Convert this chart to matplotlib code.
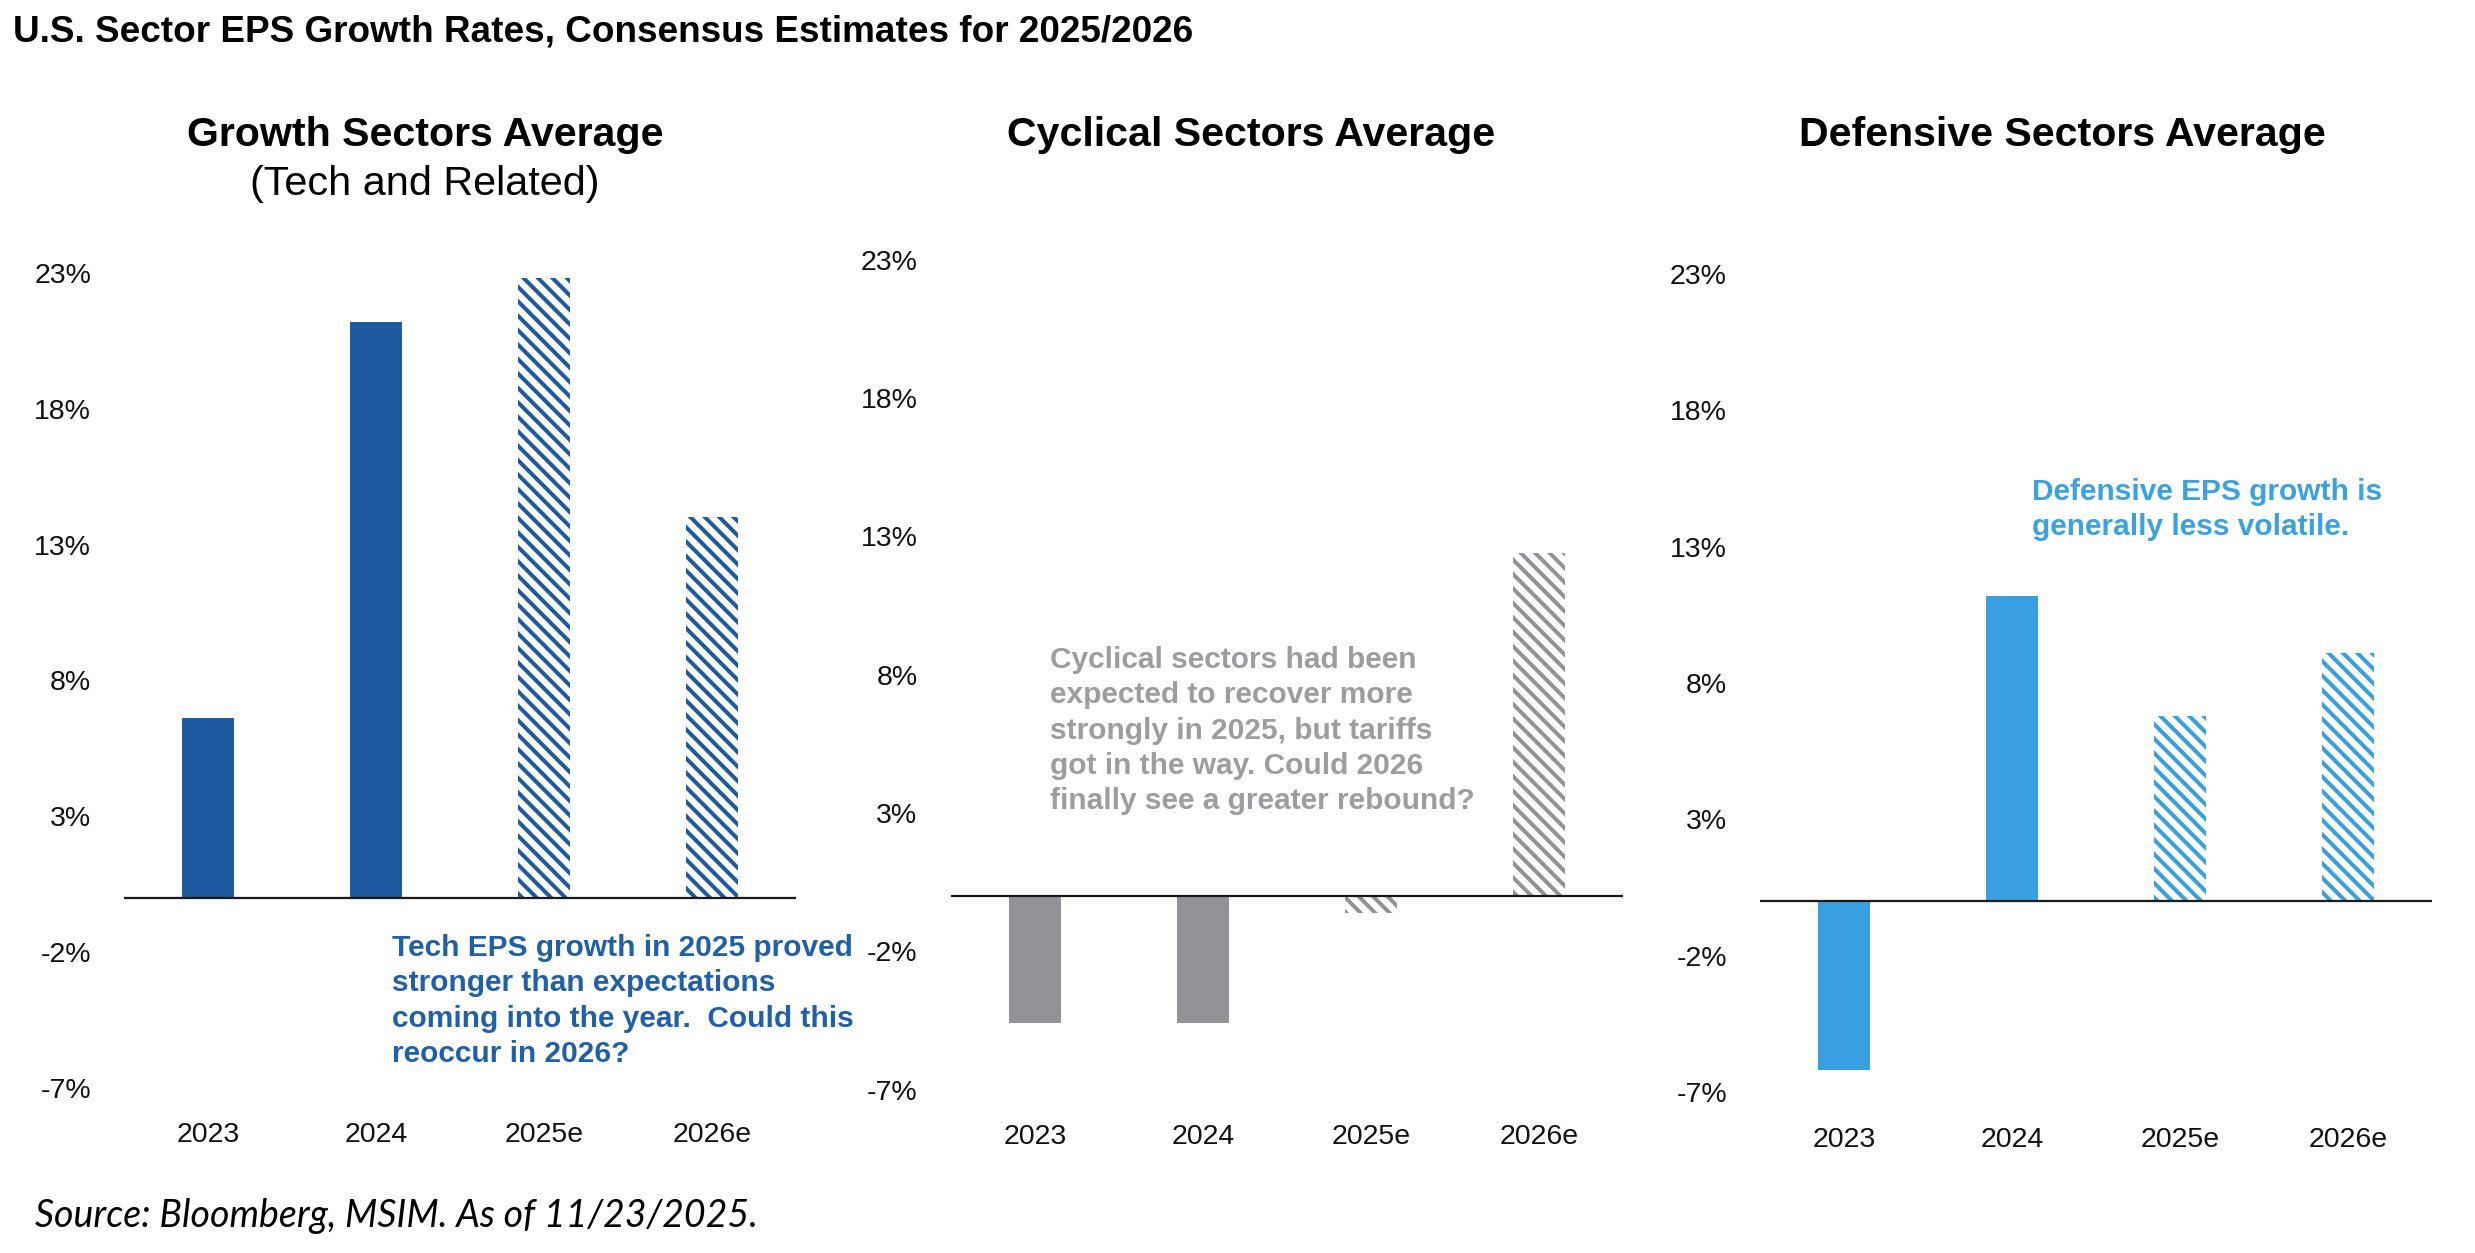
import matplotlib
matplotlib.use('Agg')
import matplotlib.pyplot as plt

DPI = 130
S = 100 / DPI  # sizes below are given as points at 100 dpi

plt.rcParams['font.family'] = ['Liberation Sans', 'DejaVu Sans']
plt.rcParams['hatch.linewidth'] = 2.9 * S

categories = ['2023', '2024', '2025e', '2026e']
growth = [6.6, 21.2, 22.8, 14.0]
cyclical = [-4.6, -4.6, -0.6, 12.4]
defensive = [-6.2, 11.2, 6.8, 9.1]
is_estimate = [False, False, True, True]
yticks = [-7, -2, 3, 8, 13, 18, 23]
ytick_labels = ['-7%', '-2%', '3%', '8%', '13%', '18%', '23%']

main_title = 'U.S. Sector EPS Growth Rates, Consensus Estimates for 2025/2026'
panel_titles = ['Growth Sectors Average', 'Cyclical Sectors Average', 'Defensive Sectors Average']
growth_subtitle = '(Tech and Related)'
notes = [
    'Tech EPS growth in 2025 proved\nstronger than expectations\ncoming into the year.  Could this\nreoccur in 2026?',
    'Cyclical sectors had been\nexpected to recover more\nstrongly in 2025, but tariffs\ngot in the way. Could 2026\nfinally see a greater rebound?',
    'Defensive EPS growth is\ngenerally less volatile.',
]
source = 'Source: Bloomberg, MSIM. As of 11/23/2025.'

colors = ['#1F5AA0', '#929398', '#38A0E0']
note_colors = ['#2060AA', '#9C9CA1', '#3AA2E2']

W, H = 2475, 1253
fig = plt.figure(figsize=(W / DPI, H / DPI), dpi=DPI)

# axes rectangles in pixels: (left, top(23%), right, bottom(-7%))
rects = [
    (124.4, 273.0, 795.7, 1087.7),
    (950.8, 259.9, 1623.0, 1089.5),
    (1760.3, 274.2, 2431.8, 1091.8),
]
series = [growth, cyclical, defensive]

for i, (rect, vals, col) in enumerate(zip(rects, series, colors)):
    l, t, r, b = rect
    ax = fig.add_axes([l / W, 1 - b / H, (r - l) / W, (b - t) / H])
    x = list(range(len(categories)))
    for xi, v, est in zip(x, vals, is_estimate):
        if est:
            ax.bar(xi, v, width=0.31, facecolor='white', edgecolor=col,
                   hatch='\\\\\\', linewidth=0)
        else:
            ax.bar(xi, v, width=0.31, color=col, linewidth=0)
    ax.axhline(0, color='#1a1a1a', lw=1.6 * S, zorder=5)
    ax.set_xlim(-0.5, 3.5)
    ax.set_ylim(-7, 23)
    ax.set_yticks(yticks)
    ax.set_yticklabels(ytick_labels, fontsize=20.5 * S, color='#111111')
    ax.set_xticks(x)
    ax.set_xticklabels(categories, fontsize=20.5 * S, color='#111111')
    ax.tick_params(axis='both', length=0)
    ax.tick_params(axis='y', pad=24 * S)
    ax.tick_params(axis='x', pad=25 * S)
    for s in ax.spines.values():
        s.set_visible(False)
    ax.patch.set_alpha(0)

# titles
fig.text(13 / W, 1 - 32 / H, main_title, fontsize=26.6 * S, fontweight='bold',
         ha='left', va='center', color='#000000')
title_x = [425, 1251, 2062]
for tx, tt in zip(title_x, panel_titles):
    fig.text(tx / W, 1 - 135 / H, tt, fontsize=29.6 * S, fontweight='bold',
             ha='center', va='center', color='#000000')
fig.text(title_x[0] / W, 1 - 184 / H, growth_subtitle, fontsize=29.8 * S,
         ha='center', va='center', color='#000000')

# notes
note_pos = [(392, 934), (1050, 646), (2032, 478)]
for (nx, ny), txt, nc in zip(note_pos, notes, note_colors):
    fig.text(nx / W, 1 - ny / H, txt, fontsize=21.5 * S, fontweight='bold',
             ha='left', va='top', color=nc, linespacing=1.33)

fig.text(35 / W, 1 - 1216 / H, source, fontsize=27 * S, style='italic',
         family=['Lato', 'DejaVu Sans'], ha='left', va='center', color='#000000')

fig.savefig('out.png', dpi=DPI, facecolor='white')
